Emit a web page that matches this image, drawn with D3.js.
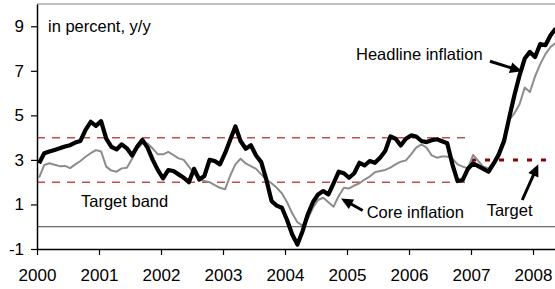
<!DOCTYPE html>
<html><head><meta charset="utf-8">
<script src="https://cdn.jsdelivr.net/npm/d3@7"></script>
<style>
body{margin:0;background:#fff;}
svg{display:block;font-family:Arial,"Liberation Sans",sans-serif;}
</style>
</head><body>
<svg id="c" width="555" height="289"></svg>
<script>
// ---- data ----
const startYear = 2000;               // first month = Jan 2000, monthly
const yearTicks = [2000, 2001, 2002, 2003, 2004, 2005, 2006, 2007, 2008];
const valueTicks = [-1, 1, 3, 5, 7, 9];
const headline = [
  2.85,3.3,3.38,3.45,3.52,3.6,3.66,3.78,3.85,4.35,4.71,4.53,
  4.74,3.96,3.59,3.47,3.7,3.52,3.2,3.6,3.9,3.55,3.0,2.54,
  2.17,2.54,2.5,2.35,2.2,2.0,2.6,2.12,2.28,3.0,2.95,2.8,
  3.3,3.9,4.5,3.85,3.5,3.66,3.2,2.9,2.1,1.15,0.95,0.85,
  0.3,-0.35,-0.8,-0.2,0.55,1.1,1.45,1.6,1.45,1.95,2.47,2.4,
  2.2,2.4,2.87,2.75,2.95,2.87,3.1,3.4,4.05,3.95,3.65,3.95,
  4.1,4.05,3.85,3.8,3.88,3.93,3.84,3.75,2.8,2.05,2.1,2.6,
  2.84,2.72,2.6,2.47,2.84,3.25,3.85,4.9,5.9,6.8,7.55,7.85,
  7.62,8.2,8.15,8.6,8.9
];
const core = [
  2.2,2.77,2.85,2.78,2.72,2.73,2.63,2.8,2.95,3.14,3.3,3.44,
  3.38,2.7,2.52,2.47,2.62,2.65,3.05,3.5,3.75,3.74,3.51,3.25,
  3.25,3.36,3.22,3.07,3.0,2.7,2.4,2.15,2.05,2.0,1.87,1.75,
  1.68,2.3,2.8,3.05,2.84,2.72,2.6,2.35,2.12,1.95,1.75,1.5,
  1.1,0.6,0.2,0.05,0.35,0.85,1.2,1.3,1.1,0.9,1.38,1.75,
  1.72,1.85,1.95,2.12,2.25,2.45,2.5,2.55,2.65,2.8,2.92,2.98,
  3.25,3.55,3.7,3.55,3.2,3.1,3.15,3.15,3.05,2.8,2.7,2.62,
  3.22,2.95,2.69,2.62,2.9,3.4,4.0,4.8,5.09,5.5,6.25,6.05,
  6.75,7.3,7.75,8.07,8.25
];
const targetBand = [2, 4];       // 2000 - 2007
const bandYears = [2000, 2007];
const targetValue = 3;           // from 2007 on
const targetYears = [2007, 2008.4];

// ---- scales ----
const W = 555, H = 289;
const mL = 37, mR = 555, mT = 4, mB = 249;
const x = d3.scaleLinear().domain([2000, 2000 + (mR - mL) / 62]).range([mL, mR]);
const y = d3.scaleLinear().domain([-1, 10]).range([mB, mT]);
const monthX = i => x(startYear + (i + 0.4) / 12);

const svg = d3.select("#c");
svg.append("rect").attr("width", W).attr("height", H).attr("fill", "#fff");

svg.append("defs").append("clipPath").attr("id", "clip")
  .append("rect").attr("x", mL).attr("y", mT - 2).attr("width", mR - mL).attr("height", mB - mT + 2);

const plot = svg.append("g").attr("clip-path", "url(#clip)");

// target band
targetBand.forEach(v => {
  plot.append("line")
    .attr("x1", x(bandYears[0])).attr("x2", x(bandYears[1]))
    .attr("y1", y(v)).attr("y2", y(v))
    .attr("stroke", "#c0504d").attr("stroke-width", 1.5)
    .attr("stroke-dasharray", "8,7");
});
// target
plot.append("line")
  .attr("x1", x(targetYears[0])).attr("x2", x(targetYears[1]))
  .attr("y1", y(targetValue)).attr("y2", y(targetValue))
  .attr("stroke", "#8b0000").attr("stroke-width", 3)
  .attr("stroke-dasharray", "5,9");
// zero line
plot.append("line")
  .attr("x1", mL).attr("x2", mR).attr("y1", y(0)).attr("y2", y(0))
  .attr("stroke", "#444").attr("stroke-width", 1);

const line = d3.line().x((d, i) => monthX(i)).y(d => y(d));
plot.append("path").datum(core).attr("d", line)
  .attr("fill", "none").attr("stroke", "#8c8c8c").attr("stroke-width", 2)
  .attr("stroke-linejoin", "round");
plot.append("path").datum(headline).attr("d", line)
  .attr("fill", "none").attr("stroke", "#000").attr("stroke-width", 4.2)
  .attr("stroke-linejoin", "round");

// top border
svg.append("line").attr("x1", mL).attr("x2", mR).attr("y1", mT).attr("y2", mT)
  .attr("stroke", "#808080").attr("stroke-width", 1.2);

// axes
const yAxis = d3.axisLeft(y).tickValues(valueTicks).tickFormat(d => String(d))
  .tickSize(6).tickSizeOuter(0).tickPadding(7);
const gy = svg.append("g").attr("transform", `translate(${mL},0)`).call(yAxis);
gy.select(".domain").attr("stroke", "#000").attr("stroke-width", 1.5);
gy.selectAll(".tick line").attr("stroke", "#000").attr("stroke-width", 1.2);
gy.selectAll(".tick text").attr("font-size", 17).attr("font-family", "Arial, 'Liberation Sans', sans-serif").attr("fill", "#000");

const xAxis = d3.axisBottom(x).tickValues(yearTicks).tickFormat(d3.format("d")).tickSize(6).tickSizeOuter(0).tickPadding(14);
const gx = svg.append("g").attr("transform", `translate(0,${mB})`).call(xAxis);
gx.select(".domain").attr("stroke", "#000").attr("stroke-width", 1.5);
gx.selectAll(".tick line").attr("stroke", "#000").attr("stroke-width", 1.2);
gx.selectAll(".tick text").attr("font-size", 17).attr("font-family", "Arial, 'Liberation Sans', sans-serif").attr("fill", "#000");

// annotations (positions in data units)
const labels = [
  {t: "in percent, y/y", yr: 2000.177, v: 8.73},
  {t: "Headline inflation", yr: 2005.145, v: 7.48},
  {t: "Target band", yr: 2000.71, v: 0.88},
  {t: "Core inflation", yr: 2005.318, v: 0.41},
  {t: "Target", yr: 2007.253, v: 0.46}
];
svg.selectAll("text.lbl").data(labels).enter().append("text").attr("class", "lbl")
  .attr("x", d => x(d.yr)).attr("y", d => y(d.v))
  .attr("font-size", 16.5).attr("fill", "#000").text(d => d.t);

const arrows = [
  {from: [2007.306, 7.43], to: [2007.823, 6.98]},
  {from: [2005.253, 0.73], to: [2004.903, 1.27]},
  {from: [2007.827, 1.2], to: [2008.085, 2.80]}
];
arrows.forEach(a => {
  const x1 = x(a.from[0]), y1 = y(a.from[1]), x2 = x(a.to[0]), y2 = y(a.to[1]);
  const ang = Math.atan2(y2 - y1, x2 - x1);
  const L = 12, Wd = 5.5;
  const bx = x2 - L * Math.cos(ang), by = y2 - L * Math.sin(ang);
  svg.append("line").attr("x1", x1).attr("y1", y1).attr("x2", bx + 2 * Math.cos(ang)).attr("y2", by + 2 * Math.sin(ang))
    .attr("stroke", "#000").attr("stroke-width", 3);
  const px = -Math.sin(ang), py = Math.cos(ang);
  svg.append("path")
    .attr("d", `M${x2},${y2}L${bx + Wd * px},${by + Wd * py}L${bx - Wd * px},${by - Wd * py}Z`)
    .attr("fill", "#000");
});
</script>
</body></html>
